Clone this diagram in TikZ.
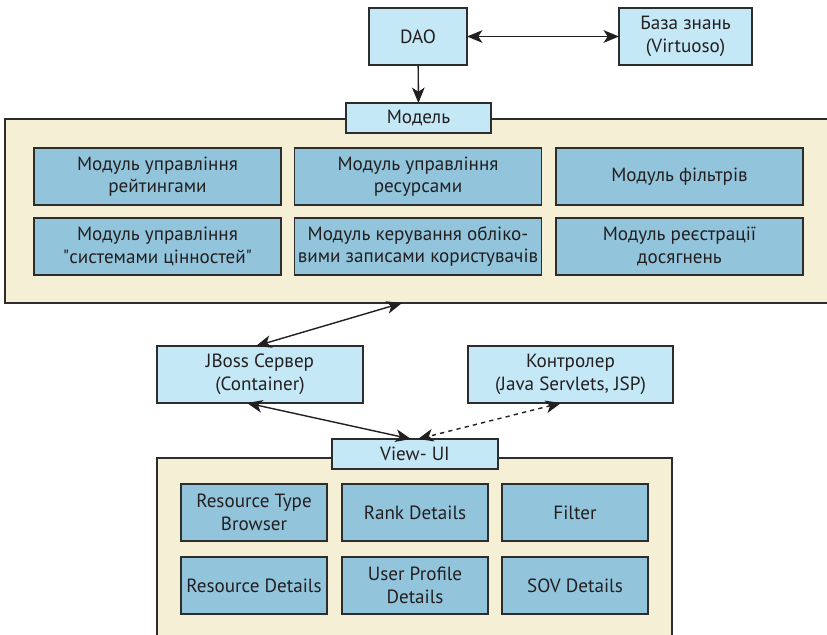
\documentclass[tikz,border=0pt]{standalone}
\usepackage{fontspec}
\setmainfont{PT Sans}
\newfontface\qfont{PT Sans}[Ligatures=TeXOff]
\newcommand*{\boxfont}{\fontsize{13.6}{16}\selectfont}
\newcommand*{\dq}{{\qfont\symbol{34}}}
\definecolor{paleblue}{RGB}{197,232,247}
\definecolor{modblue}{RGB}{146,197,220}
\definecolor{beige}{RGB}{245,239,213}
\definecolor{edge}{RGB}{45,45,45}
\definecolor{ink}{RGB}{35,31,32}
\usetikzlibrary{arrows.meta}
\usetikzlibrary{positioning}
\tikzstyle{base}=[x=0.025cm, y=-0.025cm, inner sep=0pt, outer sep=0pt, line width=1.1pt]
\tikzstyle{pale}=[draw=edge, fill=paleblue, text=ink, align=center, font=\boxfont]
\tikzstyle{module}=[draw=edge, fill=modblue, text=ink, align=center, font=\boxfont,
    minimum width=6.175cm, minimum height=1.425cm]
\tikzstyle{cell}=[draw=edge, fill=modblue, text=ink, align=center, font=\boxfont,
    minimum width=3.65cm, minimum height=1.425cm]
\tikzstyle{frame}=[draw=edge, fill=beige]
\tikzstyle{link}=[draw=ink, line width=1pt, {Stealth[length=11pt,width=9pt,inset=3pt]}-{Stealth[length=11pt,width=9pt,inset=3pt]}]

\begin{document}
\begin{tikzpicture}[base]
    \path [use as bounding box] (0,0) rectangle (827,634);
    \begin{scope}
    \clip (0,0) rectangle (827,634);
        % model frame
        \draw [frame] (5,119) rectangle (840,303);
        \node [pale, minimum width=3.625cm, minimum height=0.75cm] (modell) at (418.5,118) {Модель};
        \node [module] (m1) at (157.5,176.5) {Модуль управління\\рейтингами};
        \node [module] (m2) at (418,176.5) {Модуль управління\\ресурсами};
        \node [module] (m3) at (679.5,176.5) {Модуль фільтрів};
        \node [module] (m4) at (157.5,246.5) {Модуль управління\\\dq системами цінностей\dq};
        \node [module] (m5) at (418,246.5) {Модуль керування обліко-\\вими записами користувачів};
        \node [module] (m6) at (679.5,246.5) {Модуль реєстрації\\досягнень};
        % view frame
        \draw [frame] (157,458) rectangle (672,650);
        \node [pale, minimum width=4.15cm, minimum height=0.75cm] (view) at (415,454) {View- UI};
        \node [cell] (u1) at (254,512.5) {Resource Type\\Browser};
        \node [cell] (u2) at (415,512.5) {Rank Details};
        \node [cell] (u3) at (575,512.5) {Filter};
        \node [cell] (u4) at (254,585.5) {Resource Details};
        \node [cell] (u5) at (415,585.5) {User Profile\\Details};
        \node [cell] (u6) at (575,585.5) {SOV Details};
    \end{scope}
    % top
    \node [pale, minimum width=2.45cm, minimum height=1.425cm] (dao) at (418,36.5) {DAO};
    \node [pale, minimum width=3.325cm, minimum height=1.425cm] (kb) at (685.5,36.5) {База знань\\(Virtuoso)};
    % middle
    \node [pale, minimum width=5.15cm, minimum height=1.425cm] (jboss) at (260,374.5) {JBoss Сервер\\(Container)};
    \node [pale, minimum width=5.125cm, minimum height=1.425cm] (ctrl) at (570.5,374.5) {Контролер\\(Java Servlets, JSP)};
    \coordinate (mb) at (402,303);
    \coordinate (jt) at (256,346);
    \coordinate (jb) at (247,403);
    \coordinate (cb) at (561,403);
    \coordinate (vl) at (411,439);
    \coordinate (vr) at (418,439);
    \draw [link] (dao) -- (kb);
    \draw [draw=ink, line width=1pt, -{Stealth[length=11pt,width=9pt,inset=3pt]}] (dao) -- (modell);
    \draw [link] (mb) -- (jt);
    \draw [link] (jb) -- (vl);
    \draw [link, dashed] (cb) -- (vr);
\end{tikzpicture}
\end{document}
